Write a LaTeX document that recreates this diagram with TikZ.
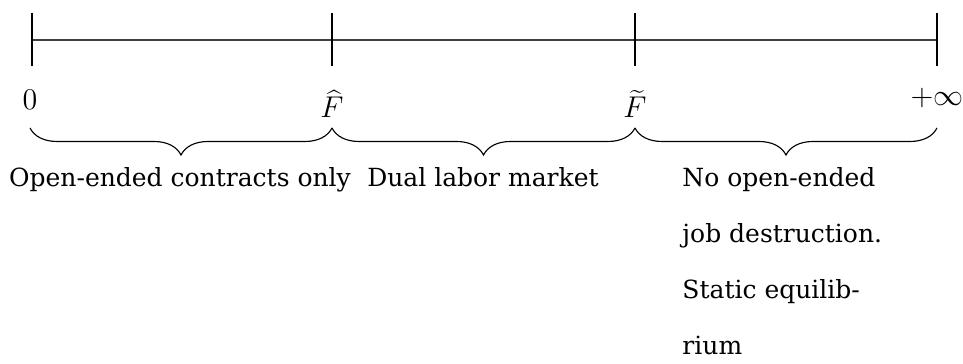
\documentclass[tikz,border=0pt]{standalone}
\usepackage{fontspec}
\setmainfont{DejaVu Serif}
\usetikzlibrary{decorations.pathreplacing}
\begin{document}
\begin{tikzpicture}[x=0.4pt,y=-0.4pt,
  axisline/.style={line width=0.45pt,draw=black!75},
  tickline/.style={line width=0.45pt,draw=black},
  brc/.style={decorate,decoration={brace,mirror,amplitude=10.8pt},line width=0.45pt},
  mlbl/.style={inner sep=0pt,anchor=base,font=\fontsize{11.5}{13}\selectfont},
  txt/.style={inner sep=0pt,anchor=base,font=\fontsize{10}{12}\selectfont},
  txtl/.style={txt,anchor=base west}]
\useasboundingbox (0,0) rectangle (963,364);
% tick coordinates
\coordinate (a0) at (32,13);  \coordinate (b0) at (32,66);  \coordinate (m0) at (32,40);
\coordinate (a1) at (332,13); \coordinate (b1) at (332,66); \coordinate (m1) at (332,40);
\coordinate (a2) at (635,13); \coordinate (b2) at (635,66); \coordinate (m2) at (635,40);
\coordinate (a3) at (937,13); \coordinate (b3) at (937,66); \coordinate (m3) at (937,40);
\draw[axisline] (m0) -- (m3);
\draw[tickline] (a0) -- (b0);
\draw[tickline] (a1) -- (b1);
\draw[tickline] (a2) -- (b2);
\draw[tickline] (a3) -- (b3);
% labels
\node[mlbl] (l0) at (30,110) {$0$};
\node[mlbl] (l1) at (332,118) {$\widehat{F}$};
\node[mlbl] (l2) at (635,118) {$\widetilde{F}$};
\node[mlbl] (l3) at (937,106) {$+\infty$};
% braces
\coordinate (c0) at (30,128);
\coordinate (c1) at (332,128);
\coordinate (c2) at (635,128);
\coordinate (c3) at (937,128);
\draw[brc] (c0) -- (c1);
\draw[brc] (c1) -- (c2);
\draw[brc] (c2) -- (c3);
% texts
\node[txt] (t1) at (180,187) {Open-ended contracts only};
\node[txt] (t2) at (483,187) {Dual labor market};
\node[txtl] (r1) at (682,187) {No open-ended};
\node[txtl] (r2) at (682,243) {job destruction.};
\node[txtl] (r3) at (682,299) {Static equilib-};
\node[txtl] (r4) at (682,355) {rium};
\end{tikzpicture}
\end{document}
